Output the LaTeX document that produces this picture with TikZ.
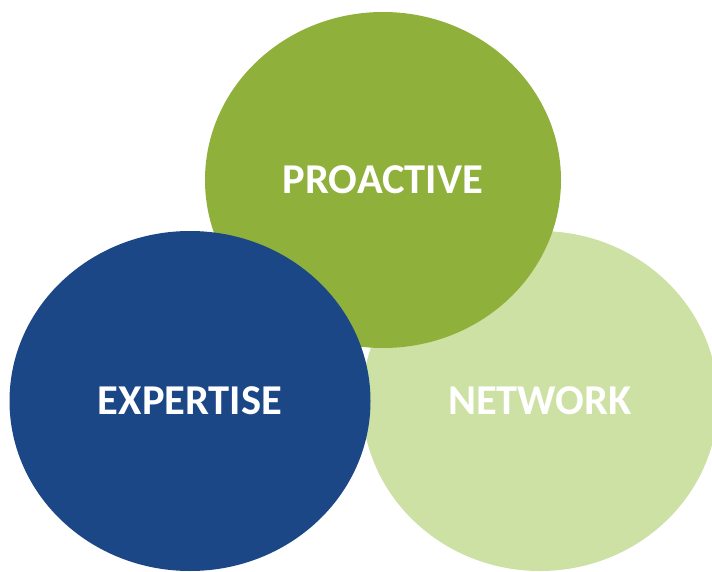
\documentclass[tikz,border=0pt]{standalone}
\usepackage{fontspec}
\setmainfont{Carlito}
\usetikzlibrary{shapes.geometric}
\definecolor{cgreen}{RGB}{143,176,59}
\definecolor{clight}{RGB}{205,225,165}
\definecolor{cblue}{RGB}{27,71,134}
\begin{document}
\begin{tikzpicture}[x=1pt,y=-1pt,
  blob/.style={ellipse,inner sep=0pt,text=white,font=\fontsize{42.5}{42.5}\selectfont\bfseries}]
\useasboundingbox (0,0) rectangle (712,572);
\clip (0,0) rectangle (712,572);
\node[blob,fill=clight,minimum width=356pt,minimum height=340pt] (network) at (540,401) {NETWORK};
\node[blob,fill=cgreen,minimum width=356pt,minimum height=336pt] (proactive) at (383,180) {PROACTIVE};
\node[blob,fill=cblue,minimum width=361pt,minimum height=340pt] (expertise) at (190,401) {EXPERTISE};
\end{tikzpicture}
\end{document}
